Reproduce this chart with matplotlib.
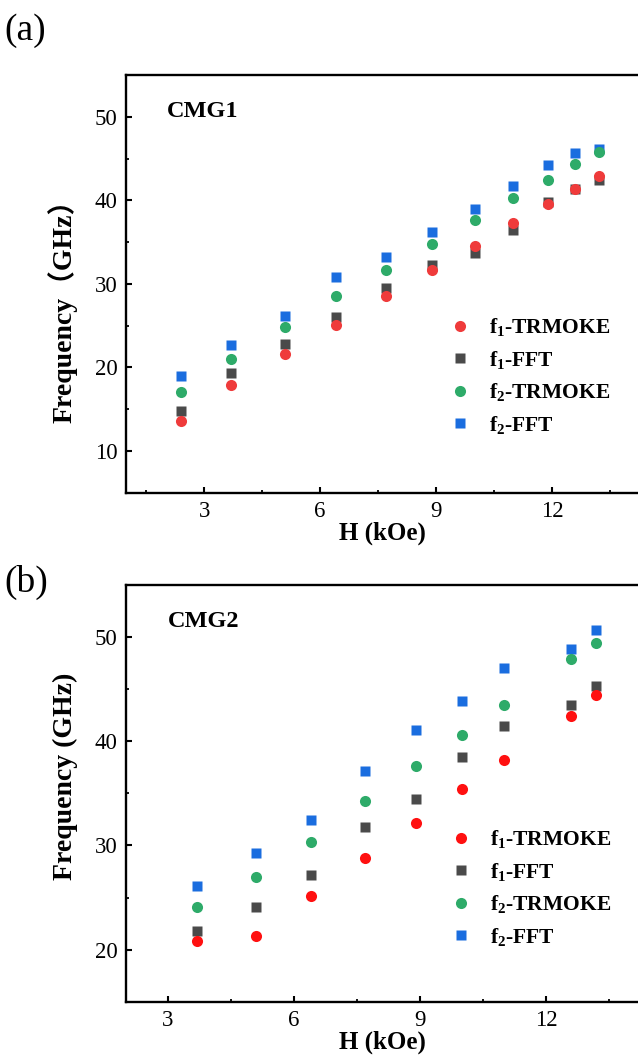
import matplotlib
matplotlib.use("Agg")
import matplotlib.pyplot as plt
from matplotlib.ticker import MultipleLocator

plt.rcParams['font.family'] = ['Liberation Serif', 'Noto Sans CJK SC']
plt.rcParams['mathtext.fontset'] = 'custom'
plt.rcParams['mathtext.rm'] = 'Liberation Serif'
plt.rcParams['mathtext.bf'] = 'Liberation Serif:bold'
plt.rcParams['mathtext.it'] = 'Liberation Serif:italic'

# ---------------- data ----------------
H_a = [2.4, 3.7, 5.1, 6.4, 7.7, 8.9, 10.0, 11.0, 11.9, 12.6, 13.2]
f1_trmoke_a = [13.6, 17.9, 21.6, 25.1, 28.6, 31.7, 34.5, 37.3, 39.5, 41.4, 42.9]
f1_fft_a = [14.8, 19.3, 22.8, 26.0, 29.5, 32.3, 33.7, 36.4, 39.8, 41.3, 42.4]
f2_trmoke_a = [17.1, 21.0, 24.8, 28.5, 31.6, 34.8, 37.7, 40.3, 42.4, 44.3, 45.8]
f2_fft_a = [19.0, 22.7, 26.2, 30.8, 33.2, 36.2, 39.0, 41.7, 44.2, 45.7, 46.1]

H_b = [3.7, 5.1, 6.4, 7.7, 8.9, 10.0, 11.0, 12.6, 13.2]
f1_trmoke_b = [20.8, 21.35, 25.1, 28.75, 32.2, 35.4, 38.2, 42.4, 44.4]
f1_fft_b = [21.8, 24.1, 27.2, 31.8, 34.5, 38.5, 41.5, 43.5, 45.3]
f2_trmoke_b = [24.1, 27.0, 30.3, 34.3, 37.6, 40.6, 43.5, 47.9, 49.45]
f2_fft_b = [26.1, 29.3, 32.4, 37.15, 41.1, 43.85, 47.0, 48.9, 50.7]

labels = [r'$\mathbf{f}_{\mathbf{1}}$-TRMOKE', r'$\mathbf{f}_{\mathbf{1}}$-FFT',
          r'$\mathbf{f}_{\mathbf{2}}$-TRMOKE', r'$\mathbf{f}_{\mathbf{2}}$-FFT']
xticks = [3, 6, 9, 12]

W, Hf = 638, 1063
fig = plt.figure(figsize=(W / 100, Hf / 100), dpi=100)


def px_axes(l, t, r, b):
    return fig.add_axes([l / W, 1 - b / Hf, (r - l) / W, (b - t) / Hf])


def style(ax, xlim, ylim, yticks):
    ax.set_xlim(*xlim)
    ax.set_ylim(*ylim)
    ax.set_xticks(xticks)
    ax.set_yticks(yticks)
    ax.xaxis.set_minor_locator(MultipleLocator(1.5))
    ax.yaxis.set_minor_locator(MultipleLocator(5))
    ax.spines['right'].set_visible(False)
    for s in ['left', 'top', 'bottom']:
        ax.spines[s].set_linewidth(1.7)
    ax.tick_params(which='major', direction='in', length=4.5, width=1.5,
                   labelsize=16.5, pad=6, right=False, top=False)
    ax.tick_params(which='minor', direction='in', length=2.5, width=1.3,
                   right=False, top=False)
    ax.set_xlabel('H (kOe)', fontsize=18, fontweight='bold', labelpad=0)


def plot_panel(ax, H, s1, s2, s3, s4, red):
    ax.plot(H, s1, 'o', color=red, ms=8, mec='none', label=labels[0], zorder=3)
    ax.plot(H, s2, 's', color='#4a4a4a', ms=6.6, mec='none', label=labels[1], zorder=2)
    ax.plot(H, s3, 'o', color='#2eab69', ms=8, mec='none', label=labels[2], zorder=3)
    ax.plot(H, s4, 's', color='#1a6ddf', ms=6.6, mec='none', label=labels[3], zorder=2)


legend_kw = dict(frameon=False, handlelength=1.0, handletextpad=0.85,
                 labelspacing=0.48, borderpad=0, borderaxespad=0,
                 prop={'weight': 'bold', 'size': 15.5},
                 bbox_transform=fig.transFigure, loc='center left')

# ---------------- panel (a) ----------------
ax1 = px_axes(126, 75, 638, 492.7)
plot_panel(ax1, H_a, f1_trmoke_a, f1_fft_a, f2_trmoke_a, f2_fft_a, '#ef3b3b')
style(ax1, (0.98, 14.22), (5, 55), [10, 20, 30, 40, 50])
ax1.set_ylabel('Frequency（GHz）', fontsize=20, fontweight='bold')
ax1.yaxis.set_label_coords(-0.094, 0.45)
ax1.text(167 / W, 1 - 117 / Hf, 'CMG1', transform=fig.transFigure,
         fontsize=17.5, fontweight='bold', ha='left', va='baseline')
ax1.legend(bbox_to_anchor=(449 / W, 1 - 376 / Hf), **legend_kw)
fig.text(4 / W, 1 - 31 / Hf, '(a)', fontsize=27, ha='left', va='center')

# ---------------- panel (b) ----------------
ax2 = px_axes(126, 585, 638, 1001.7)
plot_panel(ax2, H_b, f1_trmoke_b, f1_fft_b, f2_trmoke_b, f2_fft_b, '#ff1010')
style(ax2, (2.0, 14.19), (15, 55), [20, 30, 40, 50])
ax2.set_ylabel('Frequency (GHz)', fontsize=20, fontweight='bold')
ax2.yaxis.set_label_coords(-0.094, 0.54)
ax2.text(168 / W, 1 - 627 / Hf, 'CMG2', transform=fig.transFigure,
         fontsize=17.5, fontweight='bold', ha='left', va='baseline')
ax2.legend(bbox_to_anchor=(450 / W, 1 - 888 / Hf), **legend_kw)
fig.text(4 / W, 1 - 582 / Hf, '(b)', fontsize=27, ha='left', va='center')

fig.savefig('out.png', dpi=100)
